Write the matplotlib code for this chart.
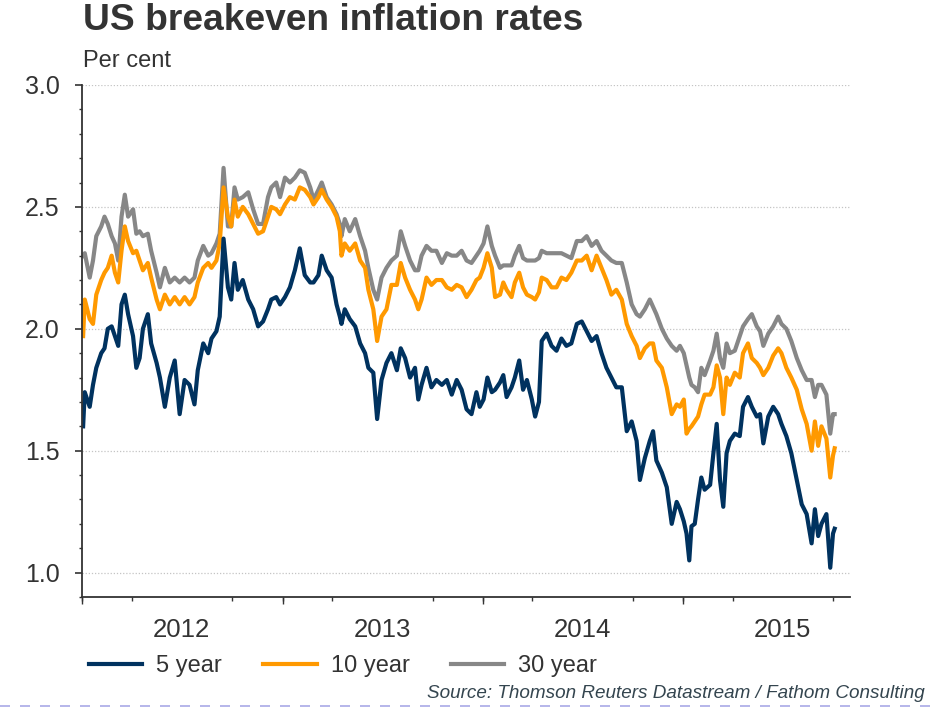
import matplotlib
matplotlib.use("Agg")
import matplotlib.pyplot as plt
import matplotlib.dates as mdates
from matplotlib.lines import Line2D
from matplotlib.ticker import MultipleLocator
import pandas as pd

plt.rcParams['font.family'] = ['Liberation Sans', 'DejaVu Sans']

dates = [
    # 2012
    "2012-01-03", "2012-01-06", "2012-01-15", "2012-01-21", "2012-01-27", "2012-02-05", "2012-02-11", "2012-02-17",
    "2012-02-24", "2012-03-01", "2012-03-07", "2012-03-13", "2012-03-19", "2012-03-25", "2012-04-03", "2012-04-09",
    "2012-04-15", "2012-04-21", "2012-04-30", "2012-05-06", "2012-05-16", "2012-05-22", "2012-05-31", "2012-06-09",
    "2012-06-18", "2012-06-27", "2012-07-06", "2012-07-15", "2012-07-24", "2012-07-30", "2012-08-09", "2012-08-18",
    "2012-08-24", "2012-09-02", "2012-09-08", "2012-09-15", "2012-09-23", "2012-09-29", "2012-10-05", "2012-10-11",
    "2012-10-20", "2012-10-30", "2012-11-08", "2012-11-17", "2012-11-26", "2012-12-05", "2012-12-11", "2012-12-20",
    # 2013
    "2012-12-27", "2013-01-05", "2013-01-14", "2013-01-23", "2013-02-01", "2013-02-10", "2013-02-20", "2013-02-26",
    "2013-03-07", "2013-03-13", "2013-03-22", "2013-03-31", "2013-04-09", "2013-04-15", "2013-04-18", "2013-04-24",
    "2013-05-03", "2013-05-13", "2013-05-22", "2013-05-31", "2013-06-06", "2013-06-15", "2013-06-22", "2013-06-30",
    "2013-07-09", "2013-07-18", "2013-07-28", "2013-08-04", "2013-08-12", "2013-08-21", "2013-08-30", "2013-09-05",
    "2013-09-11", "2013-09-20", "2013-09-29", "2013-10-08", "2013-10-18", "2013-10-27", "2013-11-05", "2013-11-14",
    "2013-11-23", "2013-12-02", "2013-12-11", "2013-12-20",
    # 2014
    "2013-12-26", "2014-01-02", "2014-01-09", "2014-01-17", "2014-01-23", "2014-02-01", "2014-02-07", "2014-02-13",
    "2014-02-22", "2014-02-28", "2014-03-08", "2014-03-15", "2014-03-22", "2014-03-31", "2014-04-06", "2014-04-13",
    "2014-04-18", "2014-04-27", "2014-05-06", "2014-05-15", "2014-05-24", "2014-06-02", "2014-06-11", "2014-06-21",
    "2014-06-30", "2014-07-09", "2014-07-18", "2014-07-27", "2014-08-05", "2014-08-14", "2014-08-23", "2014-09-01",
    "2014-09-11", "2014-09-20", "2014-09-29", "2014-10-08", "2014-10-14", "2014-10-23", "2014-11-01", "2014-11-07",
    "2014-11-13", "2014-11-23", "2014-12-02", "2014-12-11", "2014-12-20",
    # 2015
    "2014-12-26", "2015-01-02", "2015-01-07", "2015-01-12", "2015-01-16", "2015-01-22", "2015-01-28", "2015-02-03",
    "2015-02-09", "2015-02-19", "2015-02-25", "2015-03-03", "2015-03-09", "2015-03-15", "2015-03-21", "2015-03-27",
    "2015-04-05", "2015-04-14", "2015-04-20", "2015-04-29", "2015-05-06", "2015-05-15", "2015-05-21", "2015-05-27",
    "2015-06-05", "2015-06-14", "2015-06-23", "2015-06-29", "2015-07-08", "2015-07-17", "2015-07-27", "2015-08-05",
    "2015-08-14", "2015-08-23", "2015-08-29", "2015-09-04", "2015-09-10", "2015-09-19", "2015-09-26", "2015-10-01",
    "2015-10-04",
]

five_year = [
    1.60, 1.74, 1.68, 1.77, 1.84, 1.90, 1.92, 2.00, 2.01, 1.97, 1.93, 2.10, 2.14, 2.06, 1.97, 1.84,
    1.88, 2.00, 2.06, 1.94, 1.86, 1.80, 1.68, 1.80, 1.87, 1.65, 1.79, 1.77, 1.69, 1.83, 1.94, 1.90,
    1.96, 1.99, 2.05, 2.37, 2.17, 2.12, 2.27, 2.16, 2.20, 2.12, 2.08, 2.01, 2.03, 2.08, 2.12, 2.13,
    2.10, 2.13, 2.17, 2.24, 2.33, 2.22, 2.19, 2.19, 2.22, 2.30, 2.24, 2.21, 2.10, 2.05, 2.02, 2.08,
    2.04, 2.01, 1.94, 1.90, 1.84, 1.82, 1.63, 1.79, 1.86, 1.90, 1.83, 1.92, 1.88, 1.80, 1.84, 1.71,
    1.77, 1.84, 1.76, 1.79, 1.77, 1.79, 1.73, 1.79, 1.75, 1.67, 1.65, 1.74,
    1.68, 1.71, 1.80, 1.74, 1.75, 1.78, 1.81, 1.72, 1.76, 1.80, 1.87, 1.75, 1.79, 1.71, 1.64, 1.70,
    1.95, 1.98, 1.93, 1.91, 1.96, 1.93, 1.94, 2.02, 2.03, 1.99, 1.95, 1.97, 1.90, 1.84, 1.80, 1.76,
    1.76, 1.58, 1.62, 1.54, 1.38, 1.47, 1.54, 1.58, 1.46, 1.41, 1.35, 1.20, 1.29,
    1.26, 1.21, 1.16, 1.05, 1.19, 1.20, 1.30, 1.39, 1.34, 1.36, 1.49, 1.61, 1.38, 1.27, 1.49, 1.54,
    1.57, 1.56, 1.68, 1.72, 1.68, 1.64, 1.65, 1.53, 1.64, 1.68, 1.65, 1.61, 1.56, 1.49, 1.38, 1.28,
    1.24, 1.12, 1.26, 1.15, 1.20, 1.24, 1.02, 1.16, 1.18,
]

ten_year = [
    1.97, 2.12, 2.04, 2.02, 2.14, 2.20, 2.23, 2.25, 2.30, 2.23, 2.19, 2.32, 2.42, 2.36, 2.31, 2.32,
    2.28, 2.24, 2.27, 2.21, 2.12, 2.08, 2.14, 2.10, 2.13, 2.10, 2.13, 2.10, 2.13, 2.19, 2.25, 2.27,
    2.25, 2.28, 2.35, 2.58, 2.46, 2.42, 2.53, 2.46, 2.50, 2.47, 2.43, 2.39, 2.40, 2.46, 2.50, 2.49,
    2.47, 2.51, 2.54, 2.53, 2.58, 2.57, 2.54, 2.51, 2.54, 2.57, 2.53, 2.50, 2.46, 2.40, 2.30, 2.35,
    2.32, 2.35, 2.28, 2.25, 2.16, 2.08, 1.95, 2.05, 2.08, 2.18, 2.18, 2.27, 2.21, 2.16, 2.12, 2.08,
    2.12, 2.21, 2.18, 2.20, 2.20, 2.17, 2.16, 2.18, 2.17, 2.13, 2.16, 2.20,
    2.21, 2.25, 2.31, 2.25, 2.13, 2.14, 2.19, 2.16, 2.13, 2.19, 2.23, 2.17, 2.14, 2.13, 2.12, 2.15,
    2.21, 2.20, 2.17, 2.17, 2.21, 2.20, 2.23, 2.28, 2.28, 2.30, 2.24, 2.30, 2.25, 2.20, 2.14, 2.16,
    2.12, 2.02, 1.97, 1.93, 1.88, 1.92, 1.94, 1.94, 1.87, 1.84, 1.76, 1.65, 1.69,
    1.68, 1.71, 1.57, 1.59, 1.60, 1.62, 1.64, 1.69, 1.73, 1.73, 1.76, 1.85, 1.80, 1.65, 1.80, 1.77,
    1.82, 1.80, 1.90, 1.94, 1.88, 1.86, 1.84, 1.81, 1.84, 1.89, 1.92, 1.90, 1.84, 1.80, 1.75, 1.67,
    1.61, 1.50, 1.62, 1.52, 1.60, 1.55, 1.39, 1.48, 1.51,
]

thirty_year = [
    2.30, 2.31, 2.21, 2.28, 2.38, 2.42, 2.46, 2.43, 2.38, 2.35, 2.28, 2.46, 2.55, 2.46, 2.49, 2.39,
    2.40, 2.38, 2.39, 2.32, 2.23, 2.17, 2.25, 2.19, 2.21, 2.19, 2.21, 2.19, 2.21, 2.28, 2.34, 2.30,
    2.31, 2.35, 2.39, 2.66, 2.42, 2.42, 2.58, 2.53, 2.54, 2.56, 2.49, 2.43, 2.43, 2.54, 2.58, 2.60,
    2.54, 2.62, 2.60, 2.62, 2.65, 2.64, 2.58, 2.53, 2.57, 2.60, 2.54, 2.51, 2.47, 2.43, 2.38, 2.45,
    2.40, 2.45, 2.38, 2.32, 2.25, 2.16, 2.12, 2.21, 2.25, 2.28, 2.30, 2.40, 2.34, 2.28, 2.24, 2.24,
    2.30, 2.34, 2.32, 2.32, 2.27, 2.31, 2.30, 2.30, 2.32, 2.28, 2.27, 2.30,
    2.32, 2.35, 2.42, 2.34, 2.30, 2.25, 2.26, 2.26, 2.26, 2.30, 2.34, 2.29, 2.28, 2.28, 2.28, 2.29,
    2.32, 2.31, 2.31, 2.31, 2.31, 2.30, 2.29, 2.36, 2.36, 2.38, 2.34, 2.36, 2.32, 2.30, 2.28, 2.27,
    2.27, 2.19, 2.10, 2.06, 2.05, 2.08, 2.12, 2.09, 2.06, 2.00, 1.96, 1.93, 1.91,
    1.93, 1.90, 1.85, 1.80, 1.77, 1.76, 1.74, 1.84, 1.81, 1.87, 1.91, 1.98, 1.88, 1.84, 1.94, 1.90,
    1.91, 1.97, 2.01, 2.04, 2.06, 2.01, 1.99, 1.93, 1.98, 2.01, 2.05, 2.02, 2.00, 1.95, 1.88, 1.83,
    1.79, 1.79, 1.72, 1.77, 1.77, 1.73, 1.57, 1.65, 1.65,
]

series_labels = ["5 year", "10 year", "30 year"]
series_colors = ["#00325f", "#ff9900", "#878787"]
year_labels = ["2012", "2013", "2014", "2015"]

x = pd.to_datetime(dates)
txt = "#333333"

fig = plt.figure(figsize=(9.31, 7.07), dpi=100)
ax = fig.add_axes([0.0881, 0.1556, 0.8249, 0.7242])

lw = 3.0
h30, = ax.plot(x, thirty_year, color=series_colors[2], lw=lw, solid_joinstyle="round", label=series_labels[2])
h10, = ax.plot(x, ten_year, color=series_colors[1], lw=lw, solid_joinstyle="round", label=series_labels[1])
h5, = ax.plot(x, five_year, color=series_colors[0], lw=lw, solid_joinstyle="round", label=series_labels[0])

ax.set_xlim(pd.Timestamp("2012-01-01"), pd.Timestamp("2015-11-01"))
ax.set_ylim(0.9, 3.0)

# y axis
ax.yaxis.set_major_locator(MultipleLocator(0.5))
ax.yaxis.set_minor_locator(MultipleLocator(0.1))
ax.yaxis.set_major_formatter(matplotlib.ticker.FormatStrFormatter("%.1f"))
ax.tick_params(axis="y", which="major", length=5, width=1.2, color=txt, labelsize=18,
               labelcolor=txt, pad=11)
ax.tick_params(axis="y", which="minor", length=2.5, width=1.0, color=txt)
ax.grid(axis="y", which="major", color="#c4c4c4", linestyle=(0, (1, 1.5)), linewidth=0.9)

# x axis: labels at mid-year, minor ticks quarterly, longer ticks at year start
mid_years = [pd.Timestamp(f"{y}-07-01") for y in year_labels]
ax.set_xticks(mid_years)
ax.set_xticklabels(year_labels)
ax.xaxis.set_minor_locator(mdates.MonthLocator(bymonth=[1, 4, 7, 10]))
ax.tick_params(axis="x", which="major", length=0, labelsize=18.5, labelcolor=txt, pad=15)
ax.tick_params(axis="x", which="minor", length=2.8, width=1.0, color=txt)

sec = ax.secondary_xaxis("bottom")
sec.set_xticks([pd.Timestamp(f"{y}-01-01") for y in year_labels])
sec.set_xticklabels([])
sec.tick_params(axis="x", length=5, width=1.0, color=txt)
sec.spines["bottom"].set_visible(False)

for s in ["top", "right"]:
    ax.spines[s].set_visible(False)
for s in ["left", "bottom"]:
    ax.spines[s].set_color(txt)
    ax.spines[s].set_linewidth(1.3)

# titles
fig.text(83 / 931, 1 - 3 / 707, "US breakeven inflation rates", fontsize=26.7, fontweight="bold",
         color=txt, ha="left", va="top")
fig.text(83 / 931, 1 - 50 / 707, "Per cent", fontsize=17, color=txt, ha="left", va="top")

leg = fig.legend([h5, h10, h30], series_labels, loc="center left",
                 bbox_to_anchor=(82 / 931, 1 - 666 / 707), ncol=3, frameon=False,
                 fontsize=17, handlelength=2.25, handletextpad=0.6, columnspacing=1.75,
                 borderaxespad=0, borderpad=0.3)
for t in leg.get_texts():
    t.set_color(txt)
for lh in leg.legend_handles:
    lh.set_linewidth(3.0)

fig.text(925 / 931, 1 - 694 / 707, "Source: Thomson Reuters Datastream / Fathom Consulting",
         fontsize=13.6, style="italic", color="#34454f", ha="right", va="center")

fig.add_artist(Line2D([0, 1], [0.001, 0.001], transform=fig.transFigure,
                      color="#a9a9e6", linestyle=(0, (6, 6)), linewidth=1.2))

fig.savefig("out.png", dpi=100)
